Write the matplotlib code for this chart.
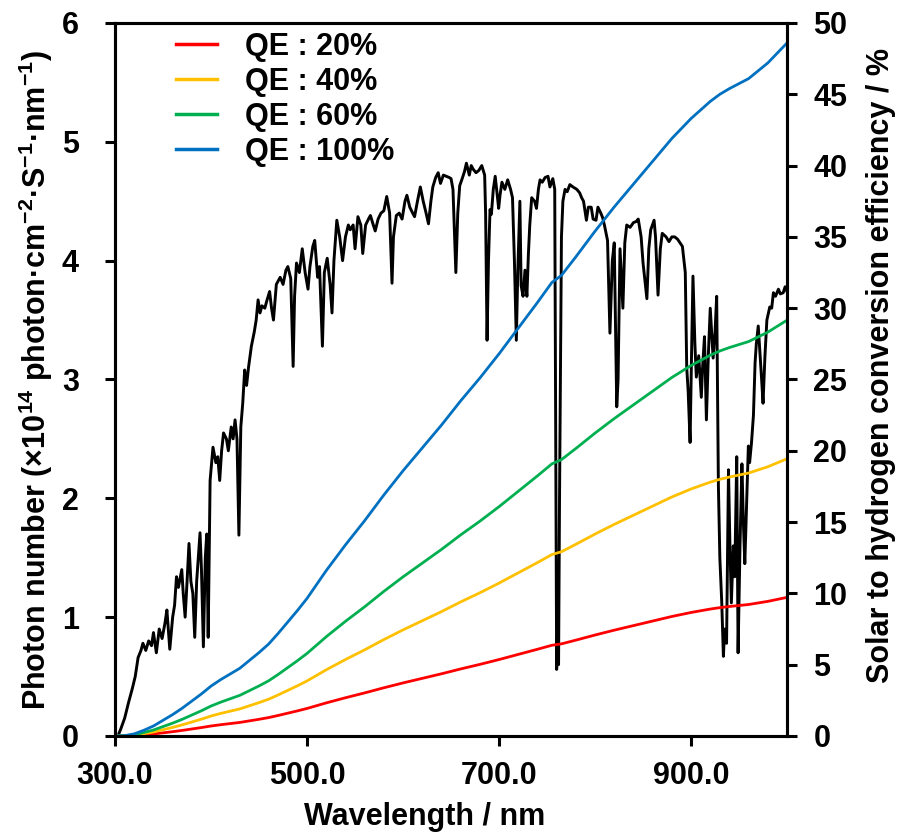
import matplotlib
matplotlib.use("Agg")
import matplotlib.pyplot as plt
from matplotlib.ticker import FormatStrFormatter, MultipleLocator

plt.rcParams['font.family'] = ['Liberation Sans', 'DejaVu Sans']
plt.rcParams['font.weight'] = 'bold'
plt.rcParams['mathtext.fontset'] = 'custom'
plt.rcParams['mathtext.rm'] = 'Liberation Sans:bold'
plt.rcParams['mathtext.bf'] = 'Liberation Sans:bold'
plt.rcParams['mathtext.default'] = 'bf'

# AM1.5G photon flux (x10^14 photon cm-2 s-1 nm-1)
spec_wl = [
    300, 303, 306, 310, 314, 318, 321, 324, 327, 329, 332, 335, 338, 340, 343, 346, 349, 352, 354, 357,
    360, 362, 364, 366, 369.5, 371, 373, 375, 377, 379, 381, 383, 385, 388.5, 390, 392, 394, 395.5, 397, 399,
    402, 405, 407, 409, 411, 413, 416, 418, 421, 423, 425, 427, 429, 431, 433, 435, 437, 439, 442, 445,
    447, 449, 451, 453, 456, 458, 461, 463, 465, 468, 472, 475, 478, 480, 483, 485.5, 487, 489, 492, 495,
    498, 501, 503, 506, 508, 511, 513, 516, 518, 521, 524, 526, 528, 531, 534, 537, 540, 543, 545, 548,
    550, 553, 556, 558, 561, 564, 566, 569, 571, 574, 577, 580, 583, 586, 588.5, 590, 593, 596, 599, 602,
    604, 607, 610, 612, 615, 618, 621, 624, 626.5, 629, 631, 634, 636.6, 639, 642, 645, 648, 650, 652, 655,
    657, 659, 662, 664, 666, 669, 671, 673, 676, 679, 682, 685, 686, 687.5, 689, 690.6, 692, 694, 696, 699.6,
    701, 703, 706, 709, 712, 714, 716, 718, 719.5, 721.7, 723, 725, 727, 729, 730.6, 732, 734, 737, 739, 741,
    742.7, 745, 748, 751, 753, 756, 758, 759, 760, 761, 762, 763, 765, 766.5, 768.75, 771, 773.75, 777, 781, 784,
    786, 788, 791, 793, 796, 798, 801, 803, 806, 808, 810, 813, 815.5, 818, 820, 822.6, 824, 826, 829, 831,
    833, 836.5, 840, 843, 845, 848, 850, 854, 856, 858, 861.5, 863, 865.6, 868, 870, 874, 877, 880, 883, 886,
    888.5, 891, 894, 895.5, 897, 899, 900.5, 902, 904, 905.5, 908, 910.7, 912, 914, 916, 918, 920, 923, 925, 926.7,
    928.5, 930, 932, 933.7, 935, 937, 939, 940.5, 942, 944, 945.5, 947.6, 949, 951, 953, 954.5, 956, 958, 959.7, 961,
    963, 965, 966.7, 968, 970, 972, 973.6, 975, 977, 979, 982, 984, 985.8, 988, 991, 993, 996, 998, 1000,
]
spec_val = [
    0.0, 0.0, 0.06, 0.15, 0.28, 0.4, 0.5, 0.66, 0.72, 0.78, 0.72, 0.8, 0.76, 0.87, 0.7, 0.9, 0.82, 0.95, 1.06, 0.73,
    1.0, 1.1, 1.34, 1.25, 1.4, 1.2, 1.0, 1.3, 1.62, 1.3, 1.2, 0.83, 1.3, 1.71, 1.4, 0.75, 1.5, 1.7, 0.83, 2.15,
    2.43, 2.3, 2.35, 2.15, 2.4, 2.55, 2.5, 2.4, 2.6, 2.5, 2.66, 2.5, 1.69, 2.6, 2.8, 3.08, 2.95, 3.1, 3.28, 3.4,
    3.5, 3.67, 3.56, 3.62, 3.6, 3.66, 3.74, 3.6, 3.5, 3.8, 3.86, 3.8, 3.92, 3.95, 3.85, 3.11, 3.7, 3.98, 3.9, 4.1,
    3.9, 3.76, 3.95, 4.12, 4.17, 3.86, 3.95, 3.28, 3.9, 4.02, 3.8, 3.56, 4.0, 4.34, 4.2, 4.0, 4.2, 4.3, 4.26, 4.3,
    4.1, 4.37, 4.3, 4.06, 4.3, 4.35, 4.38, 4.3, 4.25, 4.35, 4.4, 4.42, 4.54, 4.4, 3.81, 4.2, 4.38, 4.4, 4.35, 4.5,
    4.55, 4.45, 4.4, 4.37, 4.5, 4.62, 4.5, 4.4, 4.31, 4.5, 4.62, 4.7, 4.74, 4.65, 4.72, 4.71, 4.7, 4.69, 4.6, 3.9,
    4.4, 4.63, 4.7, 4.75, 4.82, 4.72, 4.8, 4.77, 4.74, 4.76, 4.8, 4.72, 4.4, 3.33, 4.0, 4.43, 4.39, 4.6, 4.71, 4.44,
    4.55, 4.66, 4.6, 4.68, 4.6, 4.53, 4.0, 3.33, 3.9, 4.5, 3.79, 3.7, 3.92, 3.7, 4.06, 4.3, 4.53, 4.5, 4.44, 4.6,
    4.68, 4.66, 4.7, 4.71, 4.62, 4.69, 4.6, 2.5, 0.56, 0.9, 0.6, 2.0, 4.2, 4.5, 4.6, 4.58, 4.64, 4.62, 4.6, 4.57,
    4.53, 4.5, 4.34, 4.45, 4.45, 4.35, 4.34, 4.45, 4.4, 4.36, 4.29, 4.17, 3.39, 4.0, 4.15, 2.77, 3.0, 4.1, 3.6, 4.15,
    4.3, 4.28, 4.32, 4.33, 4.35, 4.2, 3.98, 3.68, 4.1, 4.26, 4.34, 4.2, 3.71, 4.1, 4.23, 4.2, 4.16, 4.2, 4.2, 4.18,
    4.15, 4.12, 3.9, 3.1, 2.9, 2.47, 3.2, 3.87, 3.3, 3.02, 3.2, 2.85, 3.1, 3.36, 2.66, 3.2, 3.6, 3.18, 3.4, 3.7,
    2.1, 1.5, 1.12, 0.67, 0.9, 0.78, 2.24, 1.6, 1.12, 1.6, 1.34, 2.35, 0.7, 1.6, 2.29, 1.8, 1.45, 2.0, 2.44, 2.3,
    2.47, 2.7, 3.14, 3.3, 3.45, 3.2, 2.99, 2.8, 3.2, 3.5, 3.61, 3.6, 3.73, 3.7, 3.76, 3.72, 3.73, 3.78, 3.74,
]

# solar-to-hydrogen efficiency (%) for each quantum efficiency
sth_wl = [300, 310, 320, 330, 340, 350, 360, 370, 380, 390,
          400, 410, 420, 430, 440, 450, 460, 470, 480, 490,
          500, 520, 540, 560, 580, 600, 620, 640, 660, 680,
          700, 720, 740, 755, 765, 780, 800, 820, 840, 860,
          880, 900, 920, 930, 940, 960, 980, 1000]
sth_qe100 = [0, 0.02, 0.15, 0.4, 0.7, 1.1, 1.5, 1.95, 2.45, 2.95,
             3.5, 3.95, 4.35, 4.75, 5.3, 5.85, 6.45, 7.2, 8.0, 8.8,
             9.65, 11.6, 13.4, 15.1, 16.9, 18.6, 20.2, 21.8, 23.5, 25.1,
             26.8, 28.6, 30.4, 31.8, 32.3, 33.6, 35.4, 37.1, 38.7, 40.3,
             41.9, 43.3, 44.5, 45.0, 45.4, 46.1, 47.2, 48.6]
sth_qe60 = [0, 0.01, 0.09, 0.24, 0.42, 0.66, 0.9, 1.17, 1.47, 1.77,
            2.1, 2.37, 2.61, 2.85, 3.18, 3.51, 3.87, 4.32, 4.8, 5.28,
            5.79, 6.96, 8.04, 9.06, 10.14, 11.16, 12.12, 13.08, 14.1, 15.06,
            16.08, 17.16, 18.24, 19.08, 19.38, 20.16, 21.24, 22.26, 23.22, 24.18,
            25.14, 25.98, 26.7, 27.0, 27.24, 27.66, 28.32, 29.16]
sth_qe40 = [0, 0.01, 0.06, 0.16, 0.28, 0.44, 0.6, 0.78, 0.98, 1.18,
            1.4, 1.58, 1.74, 1.9, 2.12, 2.34, 2.58, 2.88, 3.2, 3.52,
            3.86, 4.64, 5.36, 6.04, 6.76, 7.44, 8.08, 8.72, 9.4, 10.04,
            10.72, 11.44, 12.16, 12.72, 12.92, 13.44, 14.16, 14.84, 15.48, 16.12,
            16.76, 17.32, 17.8, 18.0, 18.16, 18.44, 18.88, 19.44]
sth_qe20 = [0, 0.0, 0.03, 0.08, 0.14, 0.22, 0.3, 0.39, 0.49, 0.59,
            0.7, 0.79, 0.87, 0.95, 1.06, 1.17, 1.29, 1.44, 1.6, 1.76,
            1.93, 2.32, 2.68, 3.02, 3.38, 3.72, 4.04, 4.36, 4.7, 5.02,
            5.36, 5.72, 6.08, 6.36, 6.46, 6.72, 7.08, 7.42, 7.74, 8.06,
            8.38, 8.66, 8.9, 9.0, 9.08, 9.22, 9.44, 9.72]

series = [
    ('QE : 20%', sth_qe20, '#FF0000'),
    ('QE : 40%', sth_qe40, '#FFC000'),
    ('QE : 60%', sth_qe60, '#00B050'),
    ('QE : 100%', sth_qe100, '#0070C0'),
]

FS = 22

fig = plt.figure(figsize=(9.06, 8.39), dpi=100)
ax = fig.add_axes([0.127, 0.1228, 0.7417, 0.8498])
ax2 = ax.twinx()

ax.plot(spec_wl, spec_val, color='black', lw=2.1, zorder=2)

for label, vals, col in series:
    ax2.plot(sth_wl, vals, color=col, lw=2.0, label=label)

ax.set_xlim(300, 1000)
ax.set_ylim(0, 6)
ax2.set_ylim(0, 50)
ax.set_xticks([300, 500, 700, 900])
ax.xaxis.set_major_formatter(FormatStrFormatter('%.1f'))
ax.yaxis.set_major_locator(MultipleLocator(1))
ax2.yaxis.set_major_locator(MultipleLocator(5))

for a in (ax, ax2):
    for sp in a.spines.values():
        sp.set_linewidth(2.2)
    a.tick_params(direction='out', length=7, width=2.2, labelsize=FS)
ax.tick_params(axis='x', pad=11)
ax.tick_params(axis='y', pad=19)
ax2.tick_params(axis='y', pad=12)

ax.set_xlabel('Wavelength / nm', fontsize=FS, fontweight='bold')
ax.set_ylabel(r'Photon number (×10$^{14}$ photon·cm$^{-2}$·S$^{-1}$·nm$^{-1}$)',
              fontsize=FS, fontweight='bold')
ax2.set_ylabel('Solar to hydrogen conversion efficiency / %', fontsize=FS,
               fontweight='bold')
ax.xaxis.set_label_coords(0.46, -0.0926)
ax.yaxis.set_label_coords(-0.0893, 0.5)
ax2.yaxis.set_label_coords(1.1176, 0.52)

leg = ax2.legend(loc='upper left', bbox_to_anchor=(0.0908, 0.988), frameon=False,
                 fontsize=FS, handlelength=1.34, handletextpad=0.92,
                 labelspacing=0.17, borderaxespad=0, borderpad=0)
for h in leg.get_lines():
    h.set_linewidth(2.5)

fig.savefig('out.png', dpi=100, facecolor='white')
